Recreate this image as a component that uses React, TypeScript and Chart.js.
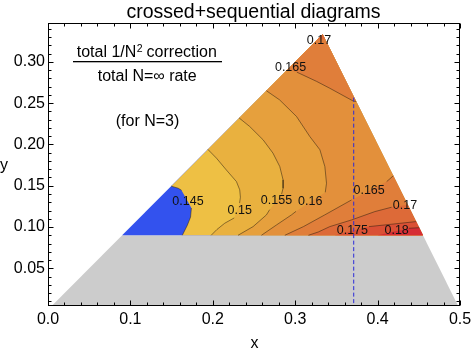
import { useEffect, useRef } from 'react';
import { Chart, registerables } from 'chart.js';
Chart.register(...registerables);

const FONT = '"Liberation Sans", Arial, Helvetica, sans-serif';

// ---- axes ----
const xTicks = [0, 0.1, 0.2, 0.3, 0.4, 0.5];
const yTicks = [0.05, 0.1, 0.15, 0.2, 0.25, 0.3];
const xRange = [0, 0.5];
const yRange = [0.0044, 0.347];

// ---- geometry of the phase-space triangle ----
const grayRegion = [[0, 0], [0.5, 0], [0.455, 0.09], [0.09, 0.09]];
const colouredRegion = [[0.09, 0.09], [0.455, 0.09], [1 / 3, 1 / 3]];
const cornerB = [0.455, 0.09];
const apex = [1 / 3, 1 / 3];

// ---- contour lines (visible segments, data coordinates) ----
const c145 = [
  [[0.1495, 0.1495], [0.158, 0.147], [0.162, 0.1445]],
  [[0.174, 0.123], [0.173, 0.112], [0.169, 0.102], [0.165, 0.094], [0.163, 0.09]],
];
const c150 = [
  [[0.194, 0.194], [0.2044, 0.1834], [0.2165, 0.169], [0.2287, 0.155], [0.2327, 0.145], [0.2335, 0.136], [0.2325, 0.129]],
  [[0.226, 0.111], [0.2145, 0.1046], [0.205, 0.097], [0.198, 0.09]],
];
const c155 = [
  [[0.232, 0.232], [0.2448, 0.2217], [0.261, 0.2056], [0.273, 0.1895], [0.2813, 0.1732], [0.2853, 0.157], [0.2853, 0.147], [0.2835, 0.14]],
  [[0.269, 0.121], [0.2651, 0.1147], [0.2489, 0.1005], [0.2306, 0.09]],
];
const c160 = [
  [[0.265, 0.265], [0.281, 0.254], [0.3016, 0.2338], [0.3177, 0.2096], [0.33, 0.1935], [0.336, 0.1732], [0.338, 0.153], [0.3365, 0.142]],
  [[0.301, 0.119], [0.2955, 0.1147], [0.2773, 0.1025], [0.259, 0.09]],
];
const c165top = [
  [[0.29, 0.29]],
  [[0.302, 0.2875], [0.326, 0.2763], [0.342, 0.268], [0.3704, 0.2525], [0.374, 0.252]],
];
const c165bot = [
  [[0.2874, 0.09], [0.31, 0.1005], [0.3359, 0.1147], [0.3684, 0.1328]],
  [[0.411, 0.155], [0.419, 0.162]],
];
const c170top = [[[0.327, 0.327], [0.3365, 0.327]]];
const c170bot = [
  [[0.316, 0.09], [0.328, 0.094], [0.342, 0.1005], [0.3684, 0.1086], [0.3967, 0.1187], [0.417, 0.124]],
  [[0.4365, 0.127]],
];
const c175 = [
  [[0.348, 0.09]],
  [[0.3895, 0.1005], [0.417, 0.1034], [0.4467, 0.1066]],
];
const c180 = [
  [[0.4, 0.09]],
  [[0.438, 0.0985], [0.4504, 0.0992]],
];

// ---- contour labels ----
const labelText = ['0.145', '0.15', '0.155', '0.16', '0.165', '0.17', '0.165', '0.17', '0.175', '0.18'];
const labelX = [0.1699, 0.2327, 0.2773, 0.3183, 0.2944, 0.3289, 0.3897, 0.4332, 0.3694, 0.4231];
const labelY = [0.1308, 0.1201, 0.1325, 0.1304, 0.2925, 0.3258, 0.1446, 0.1262, 0.0955, 0.0955];

// ---- marker line ----
const markerX = 0.371;
const markerY = [0, 0.258];

// ---- band colours ----
const colGray = '#cccccc';
const colBlue = '#3352ee';
const bandColors = ['#eec044', '#e9b13f', '#e6a03d', '#e3903b', '#e07e3a', '#dd6a38', '#da5035', '#d62d35'];

const toPts = (arr: number[][]) => arr.map(([x, y]) => ({ x, y }));
const flat = (segs: number[][][]) => segs.flat();
const lineData = (segs: number[][][]) => {
  const out: any[] = [];
  segs.forEach((s, i) => {
    if (i) out.push({ x: s[0][0], y: null });
    s.forEach(([x, y]) => out.push({ x, y }));
  });
  return out;
};

const fillSet = (pts: number[][], color: string) => ({
  data: toPts(pts),
  showLine: true,
  fill: 'shape',
  backgroundColor: color,
  borderColor: 'rgba(0,0,0,0)',
  borderWidth: 0,
  pointRadius: 0,
  tension: 0,
});
const contourSet = (segs: number[][][]) => ({
  data: lineData(segs),
  showLine: true,
  fill: false,
  borderColor: 'rgba(45,30,15,0.65)',
  borderWidth: 0.8,
  pointRadius: 0,
  tension: 0,
  spanGaps: false,
});

const overlay = {
  id: 'overlay',
  afterDatasetsDraw(chart: any) {
    const { ctx, chartArea: a, scales } = chart;
    const xs = scales.x;
    const ys = scales.y;
    ctx.save();
    // contour labels
    ctx.fillStyle = '#111';
    ctx.font = `12.5px ${FONT}`;
    ctx.textAlign = 'center';
    ctx.textBaseline = 'middle';
    labelText.forEach((t, i) => {
      ctx.fillText(t, xs.getPixelForValue(labelX[i]), ys.getPixelForValue(labelY[i]));
    });
    // frame
    ctx.strokeStyle = '#000';
    ctx.lineWidth = 1;
    const L = Math.round(a.left) + 0.5, R = Math.round(a.right) - 0.5;
    const T = Math.round(a.top) + 0.5, B = Math.round(a.bottom) - 0.5;
    ctx.strokeRect(L, T, R - L, B - T);
    // ticks
    ctx.beginPath();
    const xt = (v: number, len: number) => {
      const p = Math.round(xs.getPixelForValue(v)) + 0.5;
      ctx.moveTo(p, B); ctx.lineTo(p, B - len);
      ctx.moveTo(p, T); ctx.lineTo(p, T + len);
    };
    const yt = (v: number, len: number) => {
      const p = Math.round(ys.getPixelForValue(v)) + 0.5;
      ctx.moveTo(L, p); ctx.lineTo(L + len, p);
      ctx.moveTo(R, p); ctx.lineTo(R - len, p);
    };
    for (let i = 1; i < 25; i++) if (i % 5) xt(i * 0.02, 3);
    xTicks.forEach((v) => xt(v, 5));
    for (let i = 1; i < 35; i++) if (i % 5) yt(i * 0.01, 3);
    yTicks.forEach((v) => yt(v, 5));
    ctx.stroke();

    // texts
    ctx.fillStyle = '#000';
    ctx.textBaseline = 'alphabetic';
    ctx.textAlign = 'center';
    ctx.font = `19.5px ${FONT}`;
    ctx.fillText('crossed+sequential diagrams', 253.5, 17.5);
    ctx.font = `16px ${FONT}`;
    ctx.fillText('x', 254.5, 348);
    ctx.fillText('y', 4, 170);
    ctx.fillText('total N=\u221e rate', 147.2, 80.5);
    ctx.fillText('(for N=3)', 147.5, 126);
    // numerator with superscript
    const p1 = 'total 1/N', p3 = ' correction';
    ctx.textAlign = 'left';
    const w1 = ctx.measureText(p1).width;
    const w3 = ctx.measureText(p3).width;
    ctx.font = `10.5px ${FONT}`;
    const w2 = ctx.measureText('2').width;
    const start = 146.8 - (w1 + w2 + w3) / 2;
    ctx.font = `16px ${FONT}`;
    ctx.fillText(p1, start, 57);
    ctx.fillText(p3, start + w1 + w2, 57);
    ctx.font = `10.5px ${FONT}`;
    ctx.fillText('2', start + w1 + 0.3, 51.5);
    ctx.fillRect(73, 61, 149, 1.3);
    ctx.restore();
  },
};

export default function App() {
  const ref = useRef<HTMLCanvasElement | null>(null);
  useEffect(() => {
    if (!ref.current) return;
    const datasets: any[] = [
      {
        data: toPts([[markerX, markerY[0]], [markerX, markerY[1]]]),
        showLine: true, fill: false, borderColor: '#2b2bd9', borderWidth: 1,
        borderDash: [4, 2.5], pointRadius: 0,
      },
      contourSet(c180), contourSet(c175), contourSet(c170bot), contourSet(c165bot),
      contourSet(c165top), contourSet(c160), contourSet(c155), contourSet(c150), contourSet(c145),
      fillSet([...flat(c180), cornerB], bandColors[7]),
      fillSet([...flat(c175), cornerB], bandColors[6]),
      fillSet([...flat(c170bot), cornerB], bandColors[5]),
      fillSet([...flat(c170top), apex], bandColors[5]),
      fillSet([...flat(c165bot), cornerB], bandColors[4]),
      fillSet([...flat(c165top), apex], bandColors[4]),
      fillSet([...flat(c160), cornerB, apex], bandColors[3]),
      fillSet([...flat(c155), cornerB, apex], bandColors[2]),
      fillSet([...flat(c150), cornerB, apex], bandColors[1]),
      fillSet([...flat(c145), cornerB, apex], bandColors[0]),
      fillSet(colouredRegion, colBlue),
      fillSet(grayRegion, colGray),
    ];
    const chart = new Chart(ref.current, {
      type: 'scatter',
      data: { datasets },
      options: {
        animation: false,
        responsive: false,
        devicePixelRatio: 1,
        layout: { padding: { top: 23, right: 13, left: 0, bottom: 0 } },
        plugins: { legend: { display: false }, tooltip: { enabled: false }, title: { display: false } },
        scales: {
          x: {
            type: 'linear', min: xRange[0], max: xRange[1],
            afterBuildTicks: (s: any) => { s.ticks = xTicks.map((v) => ({ value: v })); },
            afterFit: (s: any) => { s.height = 48; s.paddingLeft = 0; s.paddingRight = 0; },
            grid: { display: false, drawTicks: false },
            border: { display: false },
            ticks: {
              callback: (v: any) => Number(v).toFixed(1),
              font: { family: FONT, size: 16 }, color: '#000', padding: 4,
              maxRotation: 0, autoSkip: false,
            },
          },
          y: {
            type: 'linear', min: yRange[0], max: yRange[1],
            afterBuildTicks: (s: any) => { s.ticks = yTicks.map((v) => ({ value: v })); },
            afterFit: (s: any) => { s.width = 48; s.paddingTop = 0; s.paddingBottom = 0; },
            grid: { display: false, drawTicks: false },
            border: { display: false },
            ticks: {
              callback: (v: any) => Number(v).toFixed(2),
              font: { family: FONT, size: 16 }, color: '#000', padding: 3,
              autoSkip: false,
            },
          },
        },
      },
      plugins: [overlay],
    });
    return () => chart.destroy();
  }, []);
  return (
    <div style={{ position: 'fixed', left: 0, top: 0, width: 473, height: 354, background: '#fff' }}>
      <canvas ref={ref} width={473} height={354} style={{ width: 473, height: 354, display: 'block' }} />
    </div>
  );
}
